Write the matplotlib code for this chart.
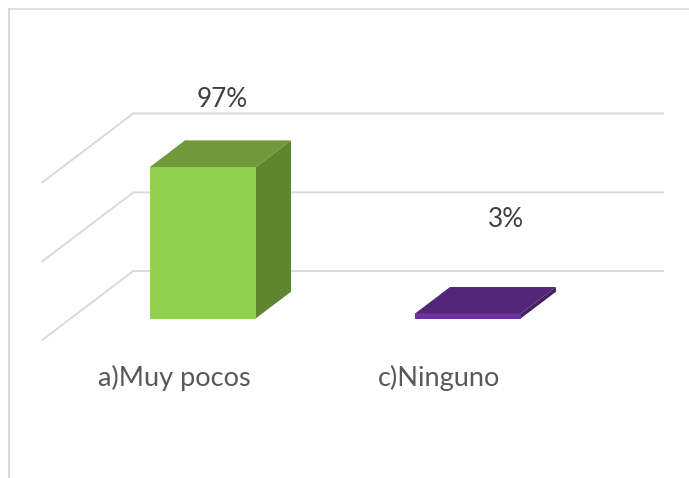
#!/usr/bin/env python3
"""Pseudo-3D bar chart, drawn by shearing a depth axis onto a flat axes."""

import matplotlib

matplotlib.use("Agg")
import matplotlib.pyplot as plt
from matplotlib.lines import Line2D
from matplotlib.patches import Polygon

categories = ["a)Muy pocos", "c)Ninguno"]
values = [97, 3]
value_labels = ["97%", "3%"]
grid_levels = [0, 50.4, 101]

W, H = 689, 478
PX_PER_CAT = 265.0
PX_PER_VALUE = 1.56
ORIGIN_X = 174.3  # px of first category at front of floor
ORIGIN_Y = 340.0  # px of value 0 at front of floor
SHEAR_X = 91.0 / PX_PER_CAT
SHEAR_Y = 69.0 / PX_PER_VALUE
BAR_HALF = 0.2
DEPTH_FRONT, DEPTH_BACK = 0.31, 0.70

grid_color = "#D9D9D9"
bar_colors = [
    ("#92D050", "#70993A", "#5F8530"),
    ("#7030A0", "#54267A", "#43205F"),
]
# pixel nudges of the value labels from the back of each bar top
label_offsets = [(-16, 41), (3, 68)]


def project(cat, value, depth):
    return cat + depth * SHEAR_X, value + depth * SHEAR_Y


def draw_bar(ax, cat, value, colors):
    front, top, side = colors
    x0, x1 = cat - BAR_HALF, cat + BAR_HALF
    fa = project(x0, 0, DEPTH_FRONT)
    fb = project(x1, 0, DEPTH_FRONT)
    fc = project(x1, value, DEPTH_FRONT)
    fd = project(x0, value, DEPTH_FRONT)
    bb = project(x1, 0, DEPTH_BACK)
    bc = project(x1, value, DEPTH_BACK)
    bd = project(x0, value, DEPTH_BACK)
    ax.add_patch(Polygon([fb, bb, bc, fc], closed=True, facecolor=side, edgecolor="none", zorder=3))
    ax.add_patch(Polygon([fd, fc, bc, bd], closed=True, facecolor=top, edgecolor="none", zorder=3))
    ax.add_patch(Polygon([fa, fb, fc, fd], closed=True, facecolor=front, edgecolor="none", zorder=4))


plt.rcParams["font.family"] = ["Lato", "DejaVu Sans"]

fig = plt.figure(figsize=(W / 100, H / 100), dpi=100, facecolor="white")
ax = fig.add_axes([0, 0, 1, 1])
ax.set_xlim(-ORIGIN_X / PX_PER_CAT, (W - ORIGIN_X) / PX_PER_CAT)
ax.set_ylim(-(H - ORIGIN_Y) / PX_PER_VALUE, ORIGIN_Y / PX_PER_VALUE)
ax.axis("off")

# document frame: top and left only
fig.add_artist(Line2D([9 / W, 1], [1 - 9 / H, 1 - 9 / H], color=grid_color, linewidth=1.1))
fig.add_artist(Line2D([9 / W, 9 / W], [0, 1 - 9 / H], color=grid_color, linewidth=1.5))

wall_left = (42.3 - ORIGIN_X) / PX_PER_CAT
wall_right = (663.3 - ORIGIN_X - 91.0) / PX_PER_CAT
for level in grid_levels:
    xs, ys = zip(
        project(wall_left, level, 0),
        project(wall_left, level, 1),
        project(wall_right, level, 1),
    )
    ax.plot(xs, ys, color=grid_color, linewidth=1.4, zorder=1, solid_joinstyle="miter")

for i, (value, colors) in enumerate(zip(values, bar_colors)):
    draw_bar(ax, i, value, colors)
    ax.annotate(
        value_labels[i],
        xy=project(i, value, DEPTH_BACK),
        xytext=label_offsets[i],
        textcoords="offset pixels",
        ha="center",
        va="center",
        fontsize=18.8,
        color="#404040",
    )
    ax.annotate(
        categories[i],
        xy=(i, 0),
        xytext=(0, -38),
        textcoords="offset pixels",
        ha="center",
        va="center",
        fontsize=19.5,
        color="#595959",
    )

fig.savefig("out.png", dpi=100, facecolor="white")
plt.close(fig)
